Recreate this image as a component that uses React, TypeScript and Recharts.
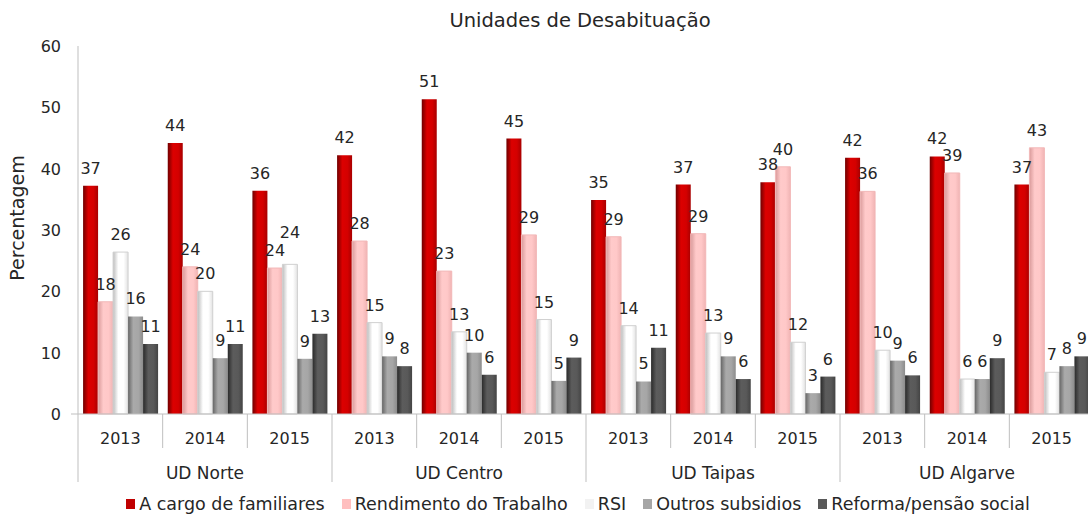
import React from "react";
import { BarChart, Bar, XAxis, YAxis, Legend, LabelList } from "recharts";

const groups = ["UD Norte", "UD Norte", "UD Norte", "UD Centro", "UD Centro", "UD Centro", "UD Taipas", "UD Taipas", "UD Taipas", "UD Algarve", "UD Algarve", "UD Algarve"];
const years = ["2013", "2014", "2015", "2013", "2014", "2015", "2013", "2014", "2015", "2013", "2014", "2015"];

const aCargo = [37.2, 44.2, 36.4, 42.2, 51.3, 44.9, 34.9, 37.4, 37.8, 41.8, 42.0, 37.4];
const rendimento = [18.3, 24.0, 23.8, 28.2, 23.3, 29.2, 28.9, 29.4, 40.3, 36.3, 39.3, 43.4];
const rsi = [26.4, 20.0, 24.4, 14.9, 13.4, 15.4, 14.4, 13.2, 11.7, 10.4, 5.7, 6.8];
const outros = [15.9, 9.1, 9.0, 9.4, 10.0, 5.4, 5.3, 9.4, 3.4, 8.7, 5.7, 7.8];
const reforma = [11.4, 11.4, 13.1, 7.8, 6.4, 9.2, 10.8, 5.7, 6.1, 6.3, 9.1, 9.4];

const yTicks = [0, 10, 20, 30, 40, 50, 60];

const data = groups.map((g, i) => ({
  key: g + "|" + years[i],
  group: g,
  year: years[i],
  aCargo: aCargo[i],
  rendimento: rendimento[i],
  rsi: rsi[i],
  outros: outros[i],
  reforma: reforma[i],
}));

const series = [
  { key: "aCargo", name: "A cargo de familiares", grad: "gRed", legend: "#C00000", stroke: "none", values: aCargo },
  { key: "rendimento", name: "Rendimento do Trabalho", grad: "gPink", legend: "#FFBFBF", stroke: "#F2B8B8", values: rendimento },
  { key: "rsi", name: "RSI", grad: "gWhite", legend: "#F2F2F2", stroke: "#D0D0D0", values: rsi },
  { key: "outros", name: "Outros subsidios", grad: "gGray", legend: "#A6A6A6", stroke: "none", values: outros },
  { key: "reforma", name: "Reforma/pensão social", grad: "gDark", legend: "#595959", stroke: "none", values: reforma },
];

const FONT = "'DejaVu Sans', sans-serif";
const TEXT = "#262626";
const AXIS = "#BFBFBF";
const LABEL_GAP = 12;
const LABEL_H = 18;
const COLLIDE_H = 14;
const DIGIT_W = 10.2;

const XTick = (props: any) => {
  const { x, y, payload, index } = props;
  const half = payload && payload.offset ? payload.offset : 42;
  const row = data[index] || { year: "", group: "" };
  const first = index % 3 === 0;
  const mid = index % 3 === 1;
  return (
    <g>
      <line x1={x - half} y1={y} x2={x - half} y2={y + (first ? 68 : 34)} stroke={AXIS} strokeWidth={1} />
      {index === data.length - 1 && (
        <line x1={x + half} y1={y} x2={x + half} y2={y + 68} stroke={AXIS} strokeWidth={1} />
      )}
      <text x={x} y={y + 30} textAnchor="middle" fontSize={16} fill={TEXT} fontFamily={FONT}>
        {row.year}
      </text>
      {mid && (
        <text x={x} y={y + 65} textAnchor="middle" fontSize={17} fill={TEXT} fontFamily={FONT}>
          {row.group}
        </text>
      )}
    </g>
  );
};

const YTick = (props: any) => {
  const { x, y, payload } = props;
  return (
    <g>
      {payload.value === 0 && <line x1={x + 10} y1={y} x2={x + 17} y2={y} stroke={AXIS} />}
      <text x={x} y={y} dy={6} textAnchor="end" fontSize={16} fill={TEXT} fontFamily={FONT}>
        {payload.value}
      </text>
    </g>
  );
};

const YLabel = (props: any) => {
  const vb = props.viewBox || { x: 0, y: 46, width: 78, height: 368 };
  const cx = vb.x + 24;
  const cy = vb.y + vb.height / 2 - 12;
  return (
    <text x={cx} y={cy} transform={`rotate(-90, ${cx}, ${cy})`} textAnchor="middle" fontSize={19} fill={TEXT} fontFamily={FONT}>
      Percentagem
    </text>
  );
};

const LegendContent = () => (
  <div style={{ height: 28, display: "flex", justifyContent: "center", alignItems: "center", fontFamily: FONT, fontSize: 17.5, color: TEXT, whiteSpace: "nowrap" }}>
    {series.map((s, i) => (
      <div key={s.key} style={{ display: "flex", alignItems: "center", marginLeft: i === 0 ? 0 : 17 }}>
        <span style={{ display: "inline-block", width: 9, height: 10, background: s.legend, marginRight: 4 }} />
        <span>{s.name}</span>
      </div>
    ))}
  </div>
);

// Place labels above bars; lift a label above its left neighbour's label when they would collide.
const labelBaselines = (row: number, bottom: number, ppu: number, spacing: number) => {
  const out: number[] = [];
  series.forEach((s, k) => {
    const v = s.values[row];
    let b = bottom - v * ppu - LABEL_GAP;
    if (k > 0) {
      const pv = series[k - 1].values[row];
      const pw = String(Math.round(pv)).length * DIGIT_W;
      const w = String(Math.round(v)).length * DIGIT_W;
      const pb = out[k - 1];
      if ((pw + w) / 2 > spacing + 1 && Math.abs(b - pb) < COLLIDE_H) {
        b = pb - LABEL_H;
      }
    }
    out.push(b);
  });
  return out;
};

const makeLabel = (sIdx: number) => (props: any) => {
  const vb = props.viewBox || {};
  const x = props.x ?? vb.x;
  const y = props.y ?? vb.y;
  const width = props.width ?? vb.width;
  const height = props.height ?? vb.height;
  const index = props.index;
  const value = series[sIdx].values[index];
  if (value === undefined || !height) return null;
  const ppu = height / value;
  const bottom = y + height;
  const b = labelBaselines(index, bottom, ppu, width)[sIdx];
  return (
    <text x={x + width / 2} y={b} textAnchor="middle" fontSize={16} fill={TEXT} fontFamily={FONT}>
      {Math.round(value)}
    </text>
  );
};

export default function App() {
  return (
    <div style={{ position: "absolute", left: 0, top: 0, width: 1088, height: 518, overflow: "hidden", background: "#fff", fontFamily: FONT }}>
      <div style={{ position: "absolute", left: 330, width: 500, top: 11, textAlign: "center", fontSize: 19.5, lineHeight: "20px", color: TEXT }}>
        Unidades de Desabituação
      </div>
      <BarChart width={1100} height={518} data={data} margin={{ top: 46, right: 6, left: 0, bottom: 0 }} barCategoryGap="6%" barGap={0}>
        <defs>
          <linearGradient id="gRed" x1="0" y1="0" x2="1" y2="0">
            <stop offset="0%" stopColor="#700000" />
            <stop offset="35%" stopColor="#DC0000" />
            <stop offset="70%" stopColor="#D40000" />
            <stop offset="100%" stopColor="#A80000" />
          </linearGradient>
          <linearGradient id="gPink" x1="0" y1="0" x2="1" y2="0">
            <stop offset="0%" stopColor="#D99A9A" />
            <stop offset="35%" stopColor="#FFCACA" />
            <stop offset="70%" stopColor="#FFC8C8" />
            <stop offset="100%" stopColor="#F0B4B4" />
          </linearGradient>
          <linearGradient id="gWhite" x1="0" y1="0" x2="1" y2="0">
            <stop offset="0%" stopColor="#BDBDBD" />
            <stop offset="35%" stopColor="#FFFFFF" />
            <stop offset="70%" stopColor="#FFFFFF" />
            <stop offset="100%" stopColor="#E2E2E2" />
          </linearGradient>
          <linearGradient id="gGray" x1="0" y1="0" x2="1" y2="0">
            <stop offset="0%" stopColor="#666666" />
            <stop offset="35%" stopColor="#AAAAAA" />
            <stop offset="70%" stopColor="#A6A6A6" />
            <stop offset="100%" stopColor="#8C8C8C" />
          </linearGradient>
          <linearGradient id="gDark" x1="0" y1="0" x2="1" y2="0">
            <stop offset="0%" stopColor="#2A2A2A" />
            <stop offset="35%" stopColor="#5C5C5C" />
            <stop offset="70%" stopColor="#595959" />
            <stop offset="100%" stopColor="#444444" />
          </linearGradient>
        </defs>
        <XAxis
          dataKey="key"
          interval={0}
          tickLine={false}
          tickSize={0}
          tickMargin={0}
          height={76}
          axisLine={{ stroke: AXIS }}
          tick={<XTick />}
        />
        <YAxis
          domain={[0, 60]}
          ticks={yTicks}
          width={78}
          tickLine={false}
          tickMargin={11}
          axisLine={{ stroke: AXIS }}
          tick={<YTick />}
          label={<YLabel />}
        />
        <Legend verticalAlign="bottom" content={<LegendContent />} wrapperStyle={{ left: 78, width: 1000, bottom: 0 }} />
        {series.map((s, k) => (
          <Bar key={s.key} dataKey={s.key} name={s.name} fill={`url(#${s.grad})`} stroke={s.stroke} strokeWidth={1} isAnimationActive={false}>
            <LabelList dataKey={s.key} content={makeLabel(k)} />
          </Bar>
        ))}
      </BarChart>
    </div>
  );
}
